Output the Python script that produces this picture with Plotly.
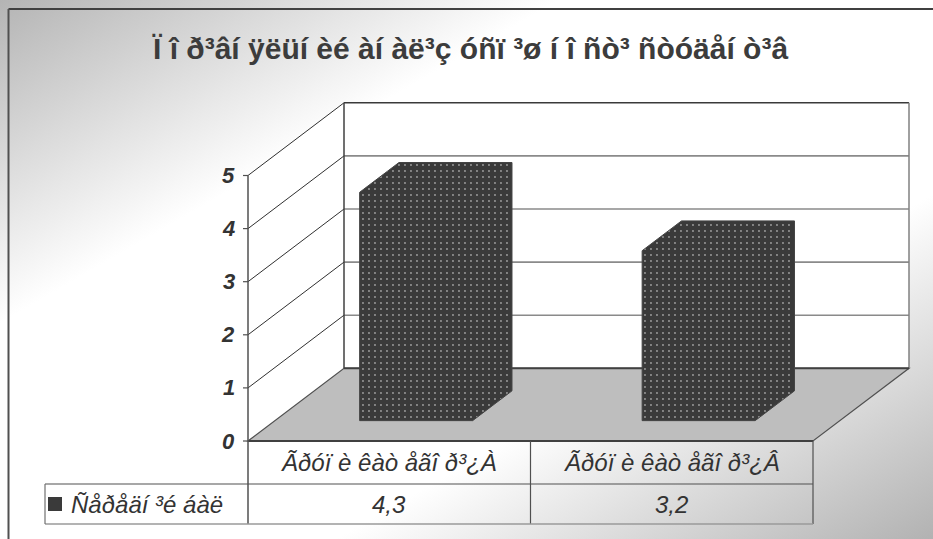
import base64
import plotly.graph_objects as go

# ---------------- data ----------------
title_text = "Ï î ð³âí ÿëüí èé àí àë³ç óñï ³ø í î ñò³ ñòóäåí ò³â"
categories = ["Ãðóï è êàò åãî ð³¿À", "Ãðóï è êàò åãî ð³¿Â"]
series_name = "Ñåðåäí ³é áàë"
values = [4.3, 3.2]
y_ticks = [0, 1, 2, 3, 4, 5]
y_tick_labels = ["0", "1", "2", "3", "4", "5"]

# ---------------- geometry / style ----------------
W, H = 933, 539
X0_PX, CAT_PX = 248.0, 282.5      # pixel of category origin, px per category
Y0_PX, UNIT_PX = 441.0, 53.1      # pixel of value 0, px per value unit
DX = 96.0 / CAT_PX                 # depth offset (full depth) in x data units
DY = 72.7 / UNIT_PX                # depth offset (full depth) in y data units
BAR_HALF = 0.2
D0, D1 = 0.28, 0.69                # bar depth span
FONT = "Liberation Sans, Arial, sans-serif"
BAR_COLOR = "#3a3a3a"

xr = [-X0_PX / CAT_PX, (W - X0_PX) / CAT_PX]
yr = [-(H - Y0_PX) / UNIT_PX, Y0_PX / UNIT_PX]


def P(xc, v, d):
    return xc + d * DX, v + d * DY


def px_x(px):
    return (px - X0_PX) / CAT_PX


def px_y(py):
    return (Y0_PX - py) / UNIT_PX


def poly_path(pts):
    return "M " + " L ".join(f"{x},{y}" for x, y in pts) + " Z"


n = len(categories)
ymax = max(y_ticks)

shapes = []
# walls
shapes.append(dict(type="path", xref="x", yref="y", layer="below",
                   path=poly_path([P(0, 0, 0), P(0, ymax, 0), P(0, ymax, 1), P(0, 0, 1)]),
                   fillcolor="white", line=dict(width=0)))
shapes.append(dict(type="path", xref="x", yref="y", layer="below",
                   path=poly_path([P(0, 0, 1), P(n, 0, 1), P(n, ymax, 1), P(0, ymax, 1)]),
                   fillcolor="white", line=dict(width=0)))
# floor
shapes.append(dict(type="path", xref="x", yref="y", layer="below",
                   path=poly_path([P(0, 0, 0), P(n, 0, 0), P(n, 0, 1), P(0, 0, 1)]),
                   fillcolor="#bebebe", line=dict(color="#505050", width=1.2)))


def seg(a, b, color, width):
    shapes.append(dict(type="line", xref="x", yref="y", layer="below",
                       x0=a[0], y0=a[1], x1=b[0], y1=b[1],
                       line=dict(color=color, width=width)))


# gridlines
for v in y_ticks[1:]:
    seg(P(0, v, 0), P(0, v, 1), "#303030", 1)
    seg(P(0, v, 1), P(n, v, 1), "#3a3a3a" if v == ymax else "#8a8a8a", 1.6)
# wall edges
seg(P(0, 0, 1), P(0, ymax, 1), "#404040", 1.5)
seg(P(n, 0, 1), P(n, ymax, 1), "#808080", 1.5)
seg(P(0, 0, 1), P(n, 0, 1), "#404040", 2)
seg(P(0, 0, 0), P(n, 0, 0), "#404040", 2)
# value axis line (continues into table)
seg((0, px_y(524)), P(0, ymax, 0), "#505050", 1.5)
for v in y_ticks:
    seg((px_x(243), v), (0, v), "#505050", 1.2)

# data table lines
row1, row2 = px_y(484), px_y(524)
for xc in range(1, n + 1):
    seg((xc, 0), (xc, row2), "#505050", 1.2)
seg((px_x(45), row1), (n, row1), "#505050", 1.2)
seg((px_x(45), row2), (n, row2), "#9a9a9a", 1.5)
seg((px_x(45), row1), (px_x(45), row2), "#707070", 1.2)
# legend key
shapes.append(dict(type="rect", xref="x", yref="y", layer="above",
                   x0=px_x(48), x1=px_x(62), y0=px_y(511), y1=px_y(497),
                   fillcolor=BAR_COLOR, line=dict(width=0)))
# chart area frame (top & left edges visible)
shapes.append(dict(type="line", xref="paper", yref="paper", x0=8.5 / W, x1=1, y0=1 - 9 / H, y1=1 - 9 / H,
                   line=dict(color="#404040", width=2)))
shapes.append(dict(type="line", xref="paper", yref="paper", x0=8.5 / W, x1=8.5 / W, y0=0, y1=1 - 9 / H,
                   line=dict(color="#505050", width=2)))

fig = go.Figure()

# 3D bars (front + top + side silhouette)
for i, v in enumerate(values):
    xa, xb = i + 0.5 - BAR_HALF, i + 0.5 + BAR_HALF
    pts = [P(xa, 0, D0), P(xb, 0, D0), P(xb, 0, D1), P(xb, v, D1), P(xa, v, D1), P(xa, v, D0), P(xa, 0, D0)]
    fig.add_trace(go.Scatter(
        x=[p[0] for p in pts], y=[p[1] for p in pts], mode="lines", fill="toself",
        fillcolor=BAR_COLOR, line=dict(color="#444444", width=1),
        fillpattern=dict(shape=".", bgcolor=BAR_COLOR, fgcolor="#ffffff", size=6, solidity=0.08),
        hoverinfo="skip", showlegend=False, name=series_name))

annotations = []
annotations.append(dict(text=f"<b>{title_text}</b>", xref="paper", yref="paper",
                        x=470 / W, y=1 - 48 / H, xanchor="center", yanchor="middle", showarrow=False,
                        font=dict(family=FONT, size=30, color="#3c3c3c")))
for v, lab in zip(y_ticks, y_tick_labels):
    annotations.append(dict(text=f"<b><i>{lab}</i></b>", x=px_x(237), y=v, xref="x", yref="y",
                            xanchor="right", yanchor="middle", showarrow=False,
                            font=dict(family=FONT, size=22, color="#333333")))
for i, c in enumerate(categories):
    annotations.append(dict(text=f"<i>{c}</i>", x=i + 0.5, y=(0 + row1) / 2, xref="x", yref="y",
                            xanchor="center", yanchor="middle", showarrow=False,
                            font=dict(family=FONT, size=24, color="#333333")))
for i, v in enumerate(values):
    annotations.append(dict(text=f"<i>{str(v).replace('.', ',')}</i>", x=i + 0.5, y=(row1 + row2) / 2,
                            xref="x", yref="y", xanchor="center", yanchor="middle", showarrow=False,
                            font=dict(family=FONT, size=24, color="#333333")))
annotations.append(dict(text=f"<i>{series_name}</i>", x=px_x(69), y=(row1 + row2) / 2, xref="x", yref="y",
                        xanchor="left", yanchor="middle", showarrow=False,
                        font=dict(family=FONT, size=24, color="#333333")))

svg = (f'<svg xmlns="http://www.w3.org/2000/svg" width="{W}" height="{H}">'
       '<defs><linearGradient id="g" x1="0" y1="0" x2="1" y2="1">'
       '<stop offset="0" stop-color="#b4b4b4"/><stop offset="0.3" stop-color="#ffffff"/>'
       '<stop offset="0.68" stop-color="#ffffff"/><stop offset="1" stop-color="#b2b2b2"/>'
       '</linearGradient></defs><rect width="100%" height="100%" fill="url(#g)"/></svg>')
bg_src = "data:image/svg+xml;base64," + base64.b64encode(svg.encode()).decode()

fig.update_layout(
    width=W, height=H, autosize=False,
    margin=dict(l=0, r=0, t=0, b=0),
    paper_bgcolor="white", plot_bgcolor="rgba(0,0,0,0)",
    xaxis=dict(range=xr, visible=False, fixedrange=True),
    yaxis=dict(range=yr, visible=False, fixedrange=True),
    shapes=shapes, annotations=annotations,
    images=[dict(source=bg_src, xref="paper", yref="paper", x=0, y=1, sizex=1, sizey=1,
                 xanchor="left", yanchor="top", sizing="stretch", layer="below")],
    showlegend=False,
)

fig.write_html("out.html")
